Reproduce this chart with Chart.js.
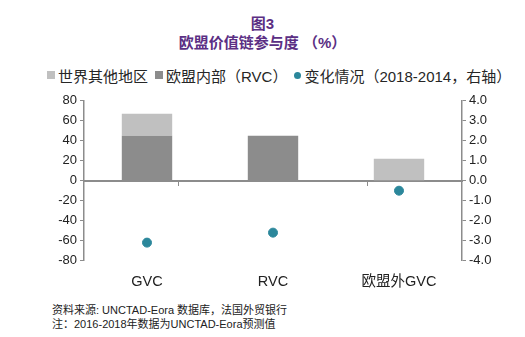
<!DOCTYPE html>
<html>
<head>
<meta charset="utf-8">
<script src="https://cdn.jsdelivr.net/npm/chart.js@4.4.0/dist/chart.umd.js"></script>
<style>
  html, body { margin: 0; padding: 0; background: #fff; }
  body { width: 525px; height: 337px; position: relative; overflow: hidden;
         font-family: "Liberation Sans", Arial, "Noto Sans CJK SC", sans-serif; }
  .title { position: absolute; left: 0; width: 525px; text-align: center; color: #5b2f84;
           font-weight: bold; font-size: 15px; line-height: 18px; }
  #t1 { top: 15px; }
  #t2 { top: 34px; }
  #legend { position: absolute; left: 47px; top: 66px; height: 18px; display: flex; align-items: center;
            font-size: 15px; color: #262626; white-space: nowrap; }
  #legend .sq { width: 8px; height: 8px; display: inline-block; margin-right: 3px; }
  #legend .dot { width: 7px; height: 7px; border-radius: 50%; display: inline-block; margin-right: 3px; }
  #legend .item { display: flex; align-items: center; margin-right: 7px; }
  #wrap { position: absolute; left: 0; top: 90px; width: 525px; height: 206px; }
  .note { position: absolute; left: 52px; font-size: 11px; line-height: 14px; color: #222; }
</style>
</head>
<body>
<div class="title" id="t1">图3</div>
<div class="title" id="t2">欧盟价值链参与度 （%）</div>
<div id="legend"></div>
<div id="wrap"><canvas id="chart"></canvas></div>
<div class="note" style="top:303px">资料来源: UNCTAD-Eora 数据库，法国外贸银行</div>
<div class="note" style="top:317px">注：2016-2018年数据为UNCTAD-Eora预测值</div>
<script>
// 类别与数据
const categories = ['GVC', 'RVC', '欧盟外GVC'];
const rvcShare = [45, 45, 0];          // 欧盟内部（RVC）
const restOfWorld = [22, 0, 22];       // 世界其他地区
const change = [-3.1, -2.6, -0.5];     // 变化情况（2018-2014，右轴）

const leftTicks = [-80, -60, -40, -20, 0, 20, 40, 60, 80];
const rightTicks = [-4, -3, -2, -1, 0, 1, 2, 3, 4];

const colors = { rvc: '#8c8c8c', rest: '#c0c0c0', change: '#2b879b' };
const axisGray = '#8c8c8c';
const fontFamily = '"Liberation Sans", Arial, "Noto Sans CJK SC", sans-serif';

// 图例（HTML）
const legendItems = [
    { label: '世界其他地区', color: colors.rest, cls: 'sq' },
    { label: '欧盟内部（RVC）', color: colors.rvc, cls: 'sq' },
    { label: '变化情况（2018-2014，右轴）', color: colors.change, cls: 'dot' }
];
document.getElementById('legend').innerHTML = legendItems.map(it =>
    `<span class="item"><span class="${it.cls}" style="background:${it.color}"></span>${it.label}</span>`
).join('');

const ctx = document.getElementById('chart').getContext('2d');
new Chart(ctx, {
    data: {
        labels: categories,
        datasets: [
            {
                type: 'bar',
                label: '欧盟内部（RVC）',
                data: rvcShare,
                backgroundColor: colors.rvc,
                stack: 's',
                xAxisID: 'x',
                yAxisID: 'y',
                barPercentage: 0.8,
                categoryPercentage: 0.5,
                order: 2
            },
            {
                type: 'bar',
                label: '世界其他地区',
                data: restOfWorld,
                backgroundColor: colors.rest,
                stack: 's',
                xAxisID: 'x',
                yAxisID: 'y',
                barPercentage: 0.8,
                categoryPercentage: 0.5,
                order: 2
            },
            {
                type: 'line',
                label: '变化情况（2018-2014，右轴）',
                data: change,
                showLine: false,
                xAxisID: 'x',
                yAxisID: 'y1',
                pointRadius: 4.5,
                pointBackgroundColor: colors.change,
                pointBorderColor: colors.change,
                order: 1
            }
        ]
    },
    options: {
        responsive: true,
        maintainAspectRatio: false,
        animation: false,
        layout: { padding: { left: 0, right: 0, top: 8, bottom: 0 } },
        plugins: {
            tooltip: { enabled: false },
            legend: { display: false }
        },
        scales: {
            x: {
                type: 'category',
                position: 'bottom',
                stacked: true,
                grid: { display: false },
                border: { display: false },
                ticks: { color: '#222', font: { family: fontFamily, size: 14.5 }, padding: 5 }
            },
            x0: {
                type: 'category',
                labels: categories,
                position: { y: 0 },
                grid: { drawOnChartArea: false, drawTicks: true, tickLength: 4, color: axisGray, offset: true },
                border: { color: axisGray, width: 2 },
                ticks: { display: false }
            },
            y: {
                position: 'left',
                stacked: true,
                min: -80,
                max: 80,
                afterBuildTicks: s => { s.ticks = leftTicks.map(v => ({ value: v })); },
                afterFit: s => { s.width = 84; },
                grid: { drawOnChartArea: false, drawTicks: true, tickLength: 4, color: axisGray },
                border: { color: axisGray, width: 1.5 },
                ticks: { color: '#222', font: { family: fontFamily, size: 13 }, padding: 3 }
            },
            y1: {
                position: 'right',
                min: -4,
                max: 4,
                afterBuildTicks: s => { s.ticks = rightTicks.map(v => ({ value: v })); },
                afterFit: s => { s.width = 63; },
                grid: { drawOnChartArea: false, drawTicks: true, tickLength: 4, color: axisGray },
                border: { color: axisGray, width: 1.5 },
                ticks: {
                    color: '#222',
                    font: { family: fontFamily, size: 13 },
                    padding: 3,
                    callback: v => v.toFixed(1)
                }
            }
        }
    }
});
</script>
</body>
</html>
